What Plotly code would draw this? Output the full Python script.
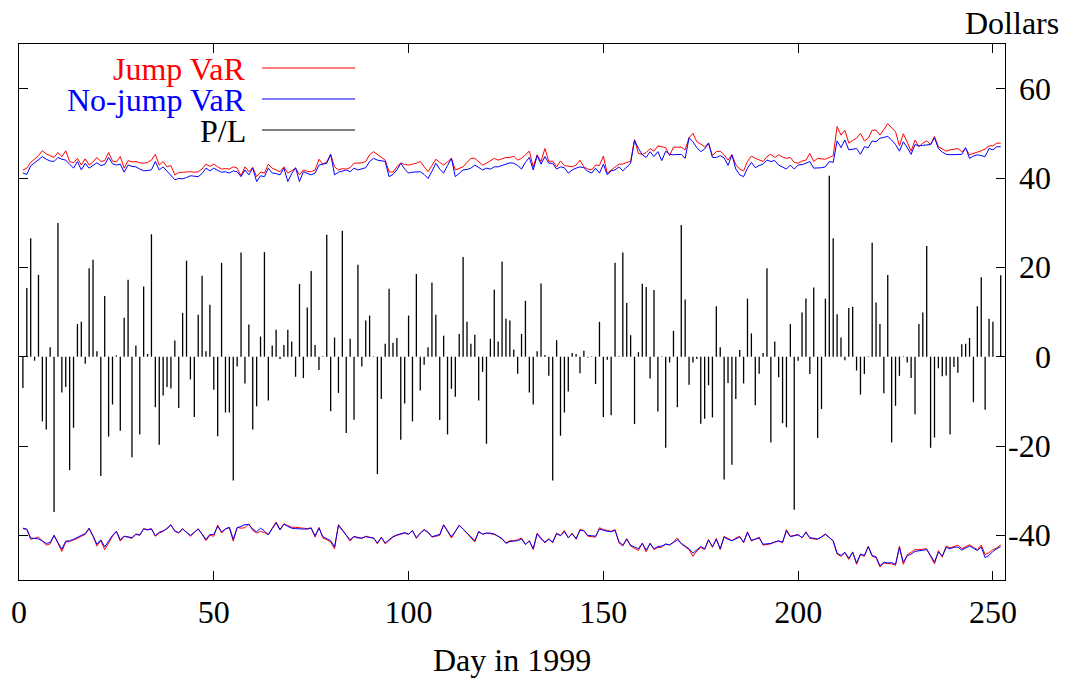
import plotly.graph_objects as go

days = list(range(1, 253))

pl = [-7.0, 15.4, 26.5, -0.9, 18.3, -14.5, -16.3, 2.1, -34.8, 29.9,
      -8.0, -6.8, -25.4, -15.9, 7.3, 7.8, -1.6, 19.8, 21.7, 1.2,
      -26.7, 13.6, -17.9, -10.7, 0.3, -16.6, 8.7, 17.2, -22.5, 2.5,
      -17.4, 15.7, 0.6, 27.4, -11.3, -19.7, -8.7, -6.8, -7.1, 3.6,
      -11.5, 9.8, 21.5, -5.1, -13.5, 9.4, 18.1, 1.2, 11.6, -7.4,
      -17.8, 21.0, -12.5, -12.5, -27.7, -2.2, 23.3, -6.0, 7.2, -16.3,
      -11.1, 4.5, 23.4, -9.8, 2.5, 6.0, -0.5, 2.6, 6.0, 3.4,
      -4.5, 16.3, -4.8, 11.0, 19.2, 2.6, -3.0, 0.1, 27.3, -12.2,
      4.3, -8.1, 28.2, -17.1, 4.0, -14.1, 20.6, -2.2, 8.1, 9.2,
      0.1, -26.3, -9.5, 2.9, 15.2, 3.1, 4.2, -18.6, -10.5, 9.2,
      -14.5, 18.5, -7.6, -1.8, 2.1, 16.6, 9.4, -14.2, 4.7, -17.4,
      -7.2, -9.0, 5.1, 22.3, 7.8, 2.9, 4.9, -9.8, -3.4, -19.5,
      4.0, 15.0, 3.4, 21.3, 8.5, 8.1, 1.6, -3.8, 5.1, 12.5,
      -8.0, -10.7, 1.2, 16.4, 0.4, -4.3, -27.7, 3.7, -17.7, -12.5,
      -7.8, 0.8, 0.6, -3.7, 1.3, -0.2, 0.1, -6.1, 7.8, -13.5,
      -0.7, -13.1, 21.0, 0.1, 23.3, 12.0, 4.8, -15.1, 1.0, 16.3,
      15.6, -4.9, 14.9, -12.3, 0.1, -20.4, -1.3, 5.8, -11.3, 29.5,
      12.8, -6.3, -1.3, -0.5, -15.0, -13.9, -6.4, -13.6, 11.3, 2.1,
      -27.5, -5.9, -24.2, -9.5, 1.5, -6.0, 13.0, 5.2, -10.9, -3.8,
      0.8, 19.8, -19.2, 3.4, -4.6, -14.9, -15.8, 7.3, -34.3, -0.9,
      9.9, 13.0, -3.9, 15.5, -18.2, -11.7, 13.0, 40.5, 26.5, 9.5,
      4.3, -0.8, 10.9, 11.2, -3.1, -8.5, -3.9, 0.1, 25.5, 12.1,
      7.3, -8.2, 18.3, -19.2, -11.0, -4.3, 0.1, -1.3, -4.8, -12.9,
      7.3, 9.9, 24.8, -20.4, -18.1, -2.6, -4.4, -4.2, -17.4, -2.3,
      -3.6, 2.8, 2.9, 4.2, -10.2, 11.3, 17.8, -11.9, 8.5, 7.8,
      0.0, 18.2]

jump_up = [41.8, 42.2, 43.5, 44.2, 45.0, 46.1, 45.4, 45.0, 44.6, 45.7,
           44.8, 46.1, 43.7, 43.4, 44.4, 42.9, 44.3, 42.9, 43.6, 44.6,
           43.7, 43.9, 45.7, 43.8, 43.6, 44.8, 42.2, 43.9, 43.6, 43.7,
           43.4, 43.3, 43.5, 44.0, 45.3, 42.9, 43.7, 42.5, 42.8, 40.7,
           41.2, 41.3, 41.4, 41.4, 41.3, 41.4, 42.0, 43.1, 42.6, 43.1,
           42.5, 42.0, 42.1, 42.0, 42.5, 42.2, 40.5, 42.5, 41.4, 42.4,
           40.3, 41.3, 41.1, 43.1, 42.2, 41.8, 41.4, 42.5, 41.1, 41.6,
           42.2, 40.7, 41.8, 41.5, 41.4, 41.8, 44.2, 43.1, 43.6, 45.3,
           42.5, 41.8, 42.1, 42.0, 42.3, 43.3, 43.3, 43.4, 43.7, 45.2,
           45.9, 45.2, 44.5, 44.0, 41.4, 41.3, 42.5, 43.4, 43.0, 42.9,
           43.1, 43.3, 43.7, 42.6, 41.4, 42.8, 44.2, 43.5, 42.9, 43.6,
           44.4, 41.8, 42.2, 42.5, 43.5, 44.4, 44.4, 43.6, 42.9, 43.3,
           43.9, 44.4, 44.0, 44.3, 44.6, 44.6, 44.9, 44.0, 44.4, 45.2,
           46.0, 42.5, 45.2, 43.7, 46.6, 43.7, 43.8, 42.5, 43.8, 42.8,
           42.6, 42.5, 42.9, 44.0, 42.5, 42.0, 41.8, 42.9, 42.8, 44.9,
           41.1, 41.8, 42.6, 43.1, 43.1, 43.5, 43.7, 48.6, 45.5, 45.3,
           45.7, 46.6, 46.0, 47.2, 47.0, 46.8, 45.0, 46.9, 46.9, 46.9,
           46.3, 49.0, 50.0, 48.1, 47.6, 47.0, 47.8, 45.0, 45.9, 46.0,
           45.2, 44.0, 45.2, 43.0, 42.0, 41.6, 43.7, 44.9, 44.4, 44.0,
           43.7, 44.8, 45.3, 44.6, 45.2, 44.7, 44.4, 44.6, 43.5, 43.3,
           43.8, 44.0, 45.5, 43.7, 44.4, 44.3, 44.2, 44.6, 45.0, 51.5,
           49.6, 50.7, 47.8, 48.4, 48.9, 50.0, 48.3, 48.9, 50.7, 50.7,
           49.6, 50.8, 52.2, 51.2, 50.4, 47.2, 49.9, 48.0, 46.0, 48.5,
           47.0, 47.8, 48.3, 47.5, 49.3, 47.0, 46.5, 46.0, 46.3, 46.4,
           46.6, 45.9, 46.6, 45.2, 45.5, 45.7, 46.1, 46.5, 47.2, 47.2,
           47.8, 47.8]

nojump_up = [41.1, 40.8, 42.7, 43.4, 44.0, 44.8, 44.2, 43.8, 43.7, 44.6,
             44.2, 44.0, 43.1, 42.2, 43.7, 41.8, 43.3, 42.2, 42.8, 43.4,
             42.8, 43.0, 44.6, 43.2, 42.9, 43.1, 41.3, 42.9, 42.6, 42.5,
             42.0, 41.6, 41.7, 41.8, 43.7, 41.8, 42.5, 41.5, 40.7, 39.6,
             39.9, 39.8, 40.1, 40.5, 40.4, 40.3, 41.0, 42.2, 41.6, 42.2,
             41.7, 41.3, 41.4, 41.1, 41.6, 41.4, 40.3, 41.8, 40.7, 42.2,
             39.2, 40.5, 40.3, 42.2, 41.1, 41.0, 40.7, 42.2, 39.2, 41.0,
             42.3, 39.2, 41.4, 41.0, 40.7, 41.1, 42.9, 43.1, 43.3, 45.3,
             40.7, 41.3, 41.6, 41.8, 41.4, 42.2, 41.8, 42.0, 42.3, 43.7,
             44.4, 44.0, 43.8, 43.7, 40.3, 40.8, 41.8, 43.3, 42.0, 41.1,
             41.3, 41.4, 41.4, 40.8, 39.9, 41.5, 43.3, 42.0, 41.1, 42.8,
             44.4, 40.3, 41.0, 41.8, 41.9, 42.2, 42.9, 42.3, 41.8, 42.2,
             42.0, 42.5, 42.5, 42.8, 43.1, 43.4, 43.3, 42.8, 42.0, 43.5,
             44.6, 41.8, 45.0, 43.1, 44.8, 43.3, 43.3, 42.0, 42.5, 42.3,
             41.1, 41.8, 42.2, 42.5, 42.3, 41.5, 41.1, 42.2, 41.1, 43.1,
             40.7, 41.6, 41.8, 42.5, 41.6, 42.5, 43.3, 48.4, 46.6, 45.2,
             44.6, 45.9, 44.8, 45.9, 43.9, 46.0, 45.3, 45.2, 45.3, 45.3,
             44.4, 49.0, 48.1, 46.8, 45.9, 46.5, 47.8, 44.6, 44.6, 45.0,
             44.5, 42.8, 45.2, 42.0, 40.7, 40.3, 42.2, 43.5, 42.3, 42.8,
             43.1, 44.0, 43.7, 43.9, 42.9, 42.4, 42.0, 42.9, 42.0, 42.9,
             43.0, 43.3, 43.7, 42.2, 42.2, 42.3, 42.5, 43.7, 43.5, 48.3,
             46.8, 48.5, 46.3, 46.4, 46.6, 45.3, 47.0, 46.8, 48.3, 48.1,
             48.9, 49.1, 49.3, 48.5, 47.5, 46.0, 48.1, 46.8, 45.3, 47.5,
             47.2, 47.3, 47.4, 47.5, 49.0, 46.6, 45.8, 45.3, 45.2, 45.2,
             45.3, 45.3, 46.8, 44.4, 44.9, 45.2, 45.0, 44.8, 46.6, 46.3,
             47.0, 47.0]

jump_lo = [-38.5, -38.7, -40.9, -40.6, -40.4, -41.2, -42.2, -41.9, -40.0, -41.8,
           -43.6, -41.5, -41.4, -41.0, -40.7, -40.2, -39.8, -38.5, -40.2, -42.4,
           -41.2, -43.2, -41.6, -40.2, -39.1, -41.3, -40.2, -40.5, -40.7, -39.8,
           -40.0, -38.5, -38.7, -38.5, -40.2, -39.5, -39.1, -38.4, -37.6, -39.1,
           -39.5, -38.5, -39.3, -40.2, -39.4, -38.5, -39.8, -41.2, -40.0, -40.2,
           -37.7, -39.5, -38.5, -38.3, -41.3, -38.2, -38.4, -38.3, -37.4, -38.9,
           -39.5, -39.1, -39.4, -39.8, -38.4, -37.0, -38.7, -37.4, -37.8, -38.2,
           -38.2, -38.3, -38.4, -38.5, -38.3, -40.4, -38.2, -40.6, -41.0, -41.5,
           -43.0, -37.6, -38.7, -40.0, -41.3, -40.2, -40.5, -40.7, -40.2, -40.4,
           -40.6, -41.9, -40.4, -41.9, -41.2, -40.4, -40.0, -39.8, -39.5, -39.8,
           -38.9, -40.7, -39.5, -38.7, -39.3, -40.4, -40.2, -40.0, -37.6, -39.0,
           -40.6, -39.2, -37.7, -38.6, -39.5, -40.5, -41.5, -39.1, -39.8, -39.5,
           -39.6, -39.8, -40.2, -40.7, -41.7, -41.2, -41.2, -41.0, -40.6, -42.1,
           -41.2, -43.2, -39.5, -40.6, -41.7, -40.7, -41.7, -39.5, -40.0, -38.9,
           -40.6, -39.5, -40.9, -38.7, -38.9, -40.2, -40.3, -40.4, -38.3, -38.7,
           -38.9, -39.1, -38.7, -41.7, -42.4, -40.7, -42.4, -42.9, -43.4, -41.7,
           -43.7, -41.7, -43.2, -42.7, -42.7, -41.9, -42.2, -41.5, -40.6, -41.9,
           -42.5, -43.2, -44.7, -43.5, -42.7, -43.2, -40.9, -42.7, -40.7, -43.2,
           -40.2, -40.8, -41.2, -40.6, -40.2, -41.7, -39.2, -41.3, -40.8, -40.4,
           -42.2, -42.0, -41.9, -41.5, -41.2, -41.7, -38.7, -40.2, -40.0, -39.8,
           -40.6, -39.2, -40.7, -40.8, -40.9, -40.3, -39.7, -40.5, -41.3, -44.2,
           -44.7, -43.9, -45.4, -43.7, -46.5, -44.3, -44.7, -42.4, -44.7, -45.0,
           -47.1, -46.2, -46.3, -46.4, -46.7, -42.4, -46.5, -44.3, -43.8, -43.2,
           -43.2, -43.1, -43.0, -44.7, -46.4, -43.4, -44.9, -42.4, -42.8, -42.5,
           -42.2, -43.0, -42.5, -42.1, -42.7, -43.2, -42.2, -44.3, -43.9, -43.2,
           -42.8, -42.1]

nojump_lo = [-38.4, -38.6, -40.6, -40.7, -40.8, -41.3, -41.8, -41.6, -40.0, -41.6,
             -43.1, -41.3, -41.2, -40.9, -40.4, -40.0, -39.6, -38.4, -40.1, -42.0,
             -41.0, -42.6, -41.3, -40.0, -39.1, -41.0, -40.2, -40.4, -40.5, -39.7,
             -39.9, -38.6, -38.8, -38.6, -40.1, -39.3, -39.0, -38.5, -37.7, -39.0,
             -39.4, -38.6, -39.2, -40.0, -39.3, -38.6, -39.7, -40.9, -39.8, -39.8,
             -38.0, -39.2, -38.6, -38.2, -40.9, -38.3, -38.0, -37.6, -37.6, -38.6,
             -39.2, -38.4, -39.0, -39.9, -38.5, -37.2, -38.8, -37.5, -38.0, -38.4,
             -38.5, -38.6, -38.6, -38.6, -38.4, -40.1, -38.4, -40.3, -40.8, -41.2,
             -42.6, -37.8, -38.9, -40.0, -41.0, -40.3, -40.6, -40.6, -40.3, -40.5,
             -40.6, -41.7, -40.5, -41.7, -41.0, -40.3, -39.9, -39.6, -39.4, -39.7,
             -39.0, -40.5, -39.5, -38.8, -39.3, -40.3, -40.0, -39.8, -37.7, -39.1,
             -40.3, -39.1, -37.8, -38.6, -39.5, -40.4, -41.2, -39.2, -39.7, -39.5,
             -39.5, -39.7, -40.2, -40.8, -41.8, -41.4, -41.3, -41.2, -40.8, -42.0,
             -41.3, -43.0, -39.7, -40.8, -41.5, -40.9, -41.5, -39.6, -40.1, -39.2,
             -40.5, -39.7, -40.7, -38.9, -39.0, -40.0, -40.1, -40.2, -38.6, -38.9,
             -39.1, -39.2, -38.9, -41.4, -42.2, -40.9, -42.2, -42.6, -43.0, -41.8,
             -43.3, -41.9, -43.0, -42.5, -42.4, -42.0, -42.1, -41.6, -41.0, -41.8,
             -42.4, -43.0, -44.0, -43.2, -42.5, -43.0, -41.1, -42.5, -40.9, -43.0,
             -40.4, -40.9, -41.2, -40.8, -40.4, -41.5, -39.4, -41.1, -40.9, -40.6,
             -42.0, -41.9, -41.8, -41.5, -41.3, -41.5, -39.0, -40.3, -40.1, -39.9,
             -40.5, -39.4, -40.5, -40.7, -40.8, -40.4, -39.8, -40.5, -41.2, -44.0,
             -44.5, -43.8, -45.1, -43.8, -46.2, -44.2, -44.5, -42.6, -44.5, -44.8,
             -46.8, -46.0, -46.2, -46.1, -46.5, -42.8, -46.0, -44.6, -44.2, -43.6,
             -43.5, -43.3, -43.2, -44.5, -46.0, -43.8, -44.6, -42.7, -43.0, -42.7,
             -42.6, -43.3, -42.8, -42.4, -42.9, -43.4, -42.6, -45.0, -44.5, -43.6,
             -43.0, -42.5]

x_ticks = [0, 50, 100, 150, 200, 250]
y_ticks = [-40, -20, 0, 20, 40, 60]
y_tick_text = ["-40", "-20", "0", "20", "40", "60"]

RED = "#ff0000"
BLUE = "#0000ff"
FONT = "Liberation Serif"
FS = 32

fig = go.Figure()

fig.add_trace(go.Scatter(x=days, y=jump_up, mode="lines",
                         line=dict(color=RED, width=1), name="Jump VaR"))
fig.add_trace(go.Scatter(x=days, y=jump_lo, mode="lines",
                         line=dict(color=RED, width=1), showlegend=False))
fig.add_trace(go.Scatter(x=days, y=nojump_up, mode="lines",
                         line=dict(color=BLUE, width=1), name="No-jump VaR"))
fig.add_trace(go.Scatter(x=days, y=nojump_lo, mode="lines",
                         line=dict(color=BLUE, width=1), showlegend=False))

ix, iy = [], []
for d, v in zip(days, pl):
    ix += [d, d, None]
    iy += [0, v, None]
fig.add_trace(go.Scatter(x=ix, y=iy, mode="lines",
                         line=dict(color="black", width=1.3), name="P/L"))

FIG_W, FIG_H = 1075, 681
L, R, T, B = 19, 1005, 44, 580
W, H = R - L, B - T

def px(xp):
    return (xp - L) / W

def py(yp):
    return (B - yp) / H

annotations = []
shapes = []

for v, t in zip(y_ticks, y_tick_text):
    annotations.append(dict(x=px(1053), xref="paper", xanchor="right",
                            y=v, yref="y", yanchor="middle", text=t,
                            showarrow=False, font=dict(family=FONT, size=FS, color="black")))

annotations.append(dict(x=px(1012), xref="paper", xanchor="center",
                        y=py(23), yref="paper", yanchor="middle", text="Dollars",
                        showarrow=False, font=dict(family=FONT, size=FS, color="black")))
annotations.append(dict(x=0.5, xref="paper", xanchor="center",
                        y=py(660), yref="paper", yanchor="middle", text="Day in 1999",
                        showarrow=False, font=dict(family=FONT, size=FS, color="black")))

legend_rows = [("Jump VaR", RED, 69), ("No-jump VaR", BLUE, 100), ("P/L", "black", 131)]
for name, col, yrow in legend_rows:
    annotations.append(dict(x=px(248), xref="paper", xanchor="right",
                            y=py(yrow), yref="paper", yanchor="middle", text=name,
                            showarrow=False, font=dict(family=FONT, size=FS, color=col)))
    shapes.append(dict(type="line", xref="paper", yref="paper",
                       x0=px(262), x1=px(355), y0=py(yrow - 1), y1=py(yrow - 1),
                       line=dict(color=col, width=1)))

fig.update_layout(
    width=FIG_W, height=FIG_H,
    margin=dict(l=L, r=FIG_W - R, t=T, b=FIG_H - B, autoexpand=False),
    paper_bgcolor="white", plot_bgcolor="white",
    showlegend=False,
    font=dict(family=FONT, size=FS, color="black"),
    annotations=annotations,
    shapes=shapes,
    xaxis=dict(range=[0, 253.1], tickvals=x_ticks, ticks="inside", ticklen=9,
               tickwidth=1, tickcolor="black", showline=True, linecolor="black",
               linewidth=1, mirror="ticks", showgrid=False, zeroline=False,
               tickfont=dict(family=FONT, size=FS, color="black"),
               ticklabelstandoff=4, automargin=False),
    yaxis=dict(range=[-50, 70], tickvals=y_ticks, side="right", ticks="inside",
               ticklen=9, tickwidth=1, tickcolor="black", showline=True,
               linecolor="black", linewidth=1, mirror="ticks", showgrid=False,
               zeroline=False, showticklabels=False, automargin=False),
)

fig.write_html("out.html",
               config={"displayModeBar": False},
               post_script="document.body.style.margin='0';document.body.style.overflow='hidden';")
